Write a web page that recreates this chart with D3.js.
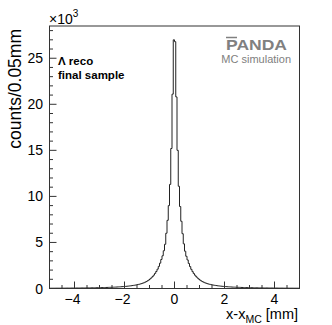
<!DOCTYPE html>
<html>
<head>
  <meta charset="utf-8">
  <script src="https://d3js.org/d3.v7.min.js"></script>
  <style>
    html, body { margin: 0; padding: 0; background: #fff; }
    svg { display: block; font-family: "Liberation Sans", Arial, sans-serif; }
  </style>
</head>
<body>
  <svg width="332" height="325"></svg>
  <script>
    // histogram binning (mm)
    const binWidth = 0.05;
    const xRange = [-5, 5];
    // counts for x < 0, listed from the centre outwards (|x| increasing)
    const countsNeg = [
      27000, 21100, 15200, 11300, 9000, 7400, 6000, 4800, 4100, 3550,
      3150, 2750, 2400, 2100, 1850, 1640, 1450, 1290, 1150, 1030,
      920, 830, 750, 680, 620, 570, 525, 485, 450, 420,
      390, 365, 342, 320, 300, 283, 267, 252, 238, 225,
      213, 202, 192, 183, 174, 166, 158, 151, 144, 138,
      132, 126, 121, 116, 112, 107, 103, 99, 96, 92,
      89, 86, 83, 80, 77, 75, 72, 70, 68, 66,
      64, 62, 60, 58, 57, 55, 54, 52, 51, 49,
      48, 47, 46, 45, 44, 43, 42, 41, 40, 39,
      38, 37, 36, 35, 35, 34, 33, 32, 32, 31
    ];
    // counts for x > 0, from the centre outwards
    const countsPos = [
      26800, 20800, 15000, 11100, 8900, 7300, 5950, 4850, 4050, 3500,
      3100, 2720, 2380, 2080, 1830, 1620, 1440, 1280, 1140, 1020,
      915, 820, 745, 675, 615, 565, 520, 480, 447, 415,
      387, 362, 338, 318, 298, 281, 265, 250, 236, 223,
      211, 200, 190, 181, 172, 164, 156, 149, 143, 137,
      131, 125, 120, 115, 111, 106, 102, 98, 95, 91,
      88, 85, 82, 79, 77, 74, 72, 69, 67, 65,
      63, 61, 59, 58, 56, 55, 53, 52, 50, 49,
      48, 46, 45, 44, 43, 42, 41, 40, 39, 38,
      38, 37, 36, 35, 34, 34, 33, 32, 31, 31
    ];
    const xMajor = [-4, -2, 0, 2, 4];
    const yMajor = [0, 5000, 10000, 15000, 20000, 25000];
    const yMax = 28500;

    const svg = d3.select("svg");
    const L = 49.5, R = 299.5, T = 26, B = 288.5;

    const x = d3.scaleLinear().domain(xRange).range([L, R]);
    const y = d3.scaleLinear().domain([0, yMax]).range([B, T]);

    // left-to-right bins
    const counts = countsNeg.slice().reverse().concat(countsPos);
    const pts = counts.map((c, i) => [xRange[0] + i * binWidth, c]);
    pts.push([xRange[1], counts[counts.length - 1]]);

    const line = d3.line()
      .x(d => x(d[0]))
      .y(d => y(d[1]))
      .curve(d3.curveStepAfter);

    svg.append("path")
      .datum(pts)
      .attr("d", line)
      .attr("fill", "none")
      .attr("stroke", "#222")
      .attr("stroke-width", 1);

    // frame
    svg.append("rect")
      .attr("x", L).attr("y", T)
      .attr("width", R - L).attr("height", B - T)
      .attr("fill", "none").attr("stroke", "#333").attr("stroke-width", 1);

    // x ticks (inward)
    const xMinor = d3.range(-4.5, 5, 0.5).filter(v => !xMajor.includes(v));
    const gx = svg.append("g").attr("stroke", "#333");
    gx.selectAll(".maj").data(xMajor).enter().append("line")
      .attr("x1", d => x(d)).attr("x2", d => x(d))
      .attr("y1", B).attr("y2", B - 7);
    gx.selectAll(".min").data(xMinor).enter().append("line")
      .attr("x1", d => x(d)).attr("x2", d => x(d))
      .attr("y1", B).attr("y2", B - 3.5);

    svg.append("g").selectAll("text").data(xMajor).enter().append("text")
      .attr("x", d => x(d) - (d < 0 ? 2 : 0))
      .attr("y", 304)
      .attr("text-anchor", "middle")
      .attr("font-size", 14)
      .text(d => d < 0 ? "\u2212" + Math.abs(d) : d);

    // y ticks
    const yMinor = d3.range(1000, yMax, 1000).filter(v => v % 5000 !== 0);
    const gy = svg.append("g").attr("stroke", "#333");
    gy.selectAll(".maj").data(yMajor).enter().append("line")
      .attr("x1", L).attr("x2", L + 7)
      .attr("y1", d => y(d)).attr("y2", d => y(d));
    gy.selectAll(".min").data(yMinor).enter().append("line")
      .attr("x1", L).attr("x2", L + 3.5)
      .attr("y1", d => y(d)).attr("y2", d => y(d));

    svg.append("g").selectAll("text").data(yMajor).enter().append("text")
      .attr("x", 43)
      .attr("y", d => y(d) + 5)
      .attr("text-anchor", "end")
      .attr("font-size", 14)
      .text(d => d / 1000);

    // exponent
    const ex = svg.append("text").attr("x", 49).attr("y", 24).attr("font-size", 14);
    ex.append("tspan").text("\u00d710");
    ex.append("tspan").attr("dy", -7).attr("font-size", 10).text("3");

    // axis titles
    svg.append("text")
      .attr("transform", "translate(21,29) rotate(-90)")
      .attr("text-anchor", "end")
      .attr("font-size", 17.5)
      .text("counts/0.05mm");

    const xt = svg.append("text")
      .attr("x", 298).attr("y", 319)
      .attr("text-anchor", "end")
      .attr("font-size", 14.5);
    xt.append("tspan").text("x-x");
    xt.append("tspan").attr("dy", 4).attr("font-size", 10.5).text("MC");
    xt.append("tspan").attr("dy", -4).text(" [mm]");

    // labels
    svg.append("text").attr("x", 58).attr("y", 65)
      .attr("font-size", 11.5).attr("font-weight", "bold").text("\u039b reco");
    svg.append("text").attr("x", 58).attr("y", 79)
      .attr("font-size", 11.5).attr("font-weight", "bold").text("final sample");

    svg.append("text").attr("x", 226).attr("y", 50)
      .attr("textLength", 61).attr("lengthAdjust", "spacingAndGlyphs")
      .attr("font-size", 15.5).attr("font-weight", "bold")
      .attr("fill", "#808080").text("PANDA");
    svg.append("line")
      .attr("x1", 226).attr("x2", 237).attr("y1", 37.5).attr("y2", 37.5)
      .attr("stroke", "#808080").attr("stroke-width", 1.5);
    svg.append("text").attr("x", 291).attr("y", 63)
      .attr("text-anchor", "end").attr("font-size", 11)
      .attr("fill", "#808080").text("MC simulation");
  </script>
</body>
</html>
